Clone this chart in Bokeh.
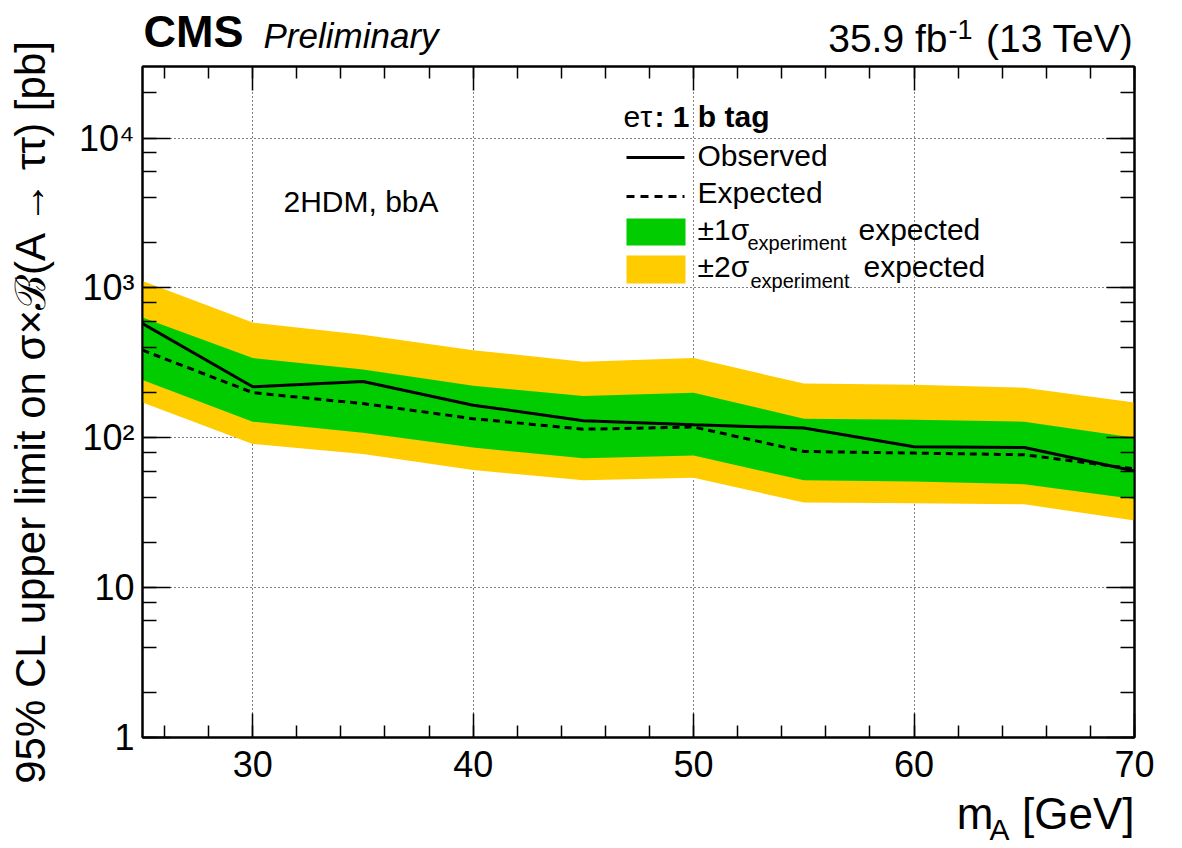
from math import pi
from bokeh.plotting import figure
from bokeh.layouts import row, column
from bokeh.models import (Range1d, LinearAxis, LogAxis, LogTicker, SingleIntervalTicker,
                          Label, BoxAnnotation, Arrow, CustomJSTickFormatter)
from bokeh.embed import file_html
from bokeh.resources import INLINE

# ---------------- data ----------------
mass = [25, 30, 35, 40, 45, 50, 55, 60, 65, 70]
observed = [578, 219, 237, 165, 130, 122, 116, 87, 86, 60]
expected = [384, 200, 169, 134, 114, 118, 81, 79, 77, 62]
exp_up1 = [634, 340, 285, 222, 190, 200, 134, 132, 128, 100]
exp_dn1 = [243, 128, 108, 86, 73, 76, 52, 51, 49, 39]
exp_up2 = [1113, 587, 486, 384, 321, 340, 230, 226, 216, 172]
exp_dn2 = [172, 91, 78, 61, 52, 54, 37, 36.5, 36, 28]

y_tick_labels = {1: "1", 10: "10", 100: "10\u00b2", 1000: "10\u00b3", 10000: "10\u2074"}

# ---------------- geometry (canvas pixels) ----------------
W, H = 1182, 848
LEFT_W = 60          # strip holding the y-axis title
HEAD_H = 64          # strip holding CMS / lumi header
FL, FR, FT, FB = 142, 1134, 66, 737   # plot frame
MAIN_H = 722
FOOT_H = H - HEAD_H - MAIN_H
FONT = "Liberation Sans"
YELLOW = "#ffcc00"
GREEN = "#00cc00"
BASE_K = 0.35        # alphabetic-baseline correction (fraction of font size)


def no_align(f):
    try:
        f.frame_align = False
    except Exception:
        pass


def text_fig(w, h):
    f = figure(width=w, height=h, x_range=Range1d(0, 1), y_range=Range1d(0, 1),
               x_axis_type=None, y_axis_type=None, output_backend="svg",
               toolbar_location=None, min_border=0, title=None)
    f.outline_line_color = None
    f.background_fill_color = "white"
    f.border_fill_color = "white"
    no_align(f)
    return f


def lab(fig, ox, ob, text, X, Y, size, style="normal", align="left", angle=0):
    """Place a text with its baseline at canvas pixel (X, Y); fig frame origin at (ox, ob)."""
    x = X - ox
    y = ob - Y
    if angle == 0:
        y += BASE_K * size
    else:
        x -= BASE_K * size
    fig.add_layout(Label(x=x, y=y, x_units="screen", y_units="screen", text=text,
                         text_font=FONT, text_font_size=f"{size}px", text_font_style=style,
                         text_align=align, text_baseline="alphabetic", text_color="black",
                         angle=angle))


# ---------------- main plot ----------------
p = figure(width=W - LEFT_W, height=MAIN_H, x_range=Range1d(25, 70), y_range=Range1d(1, 3.0e4),
           y_axis_type="log", output_backend="svg", toolbar_location=None, title=None,
           min_border_left=FL - LEFT_W, min_border_right=W - FR,
           min_border_top=FT - HEAD_H, min_border_bottom=HEAD_H + MAIN_H - FB)
no_align(p)
p.background_fill_color = "white"
p.border_fill_color = "white"
p.outline_line_color = "black"
p.outline_line_width = 2

xt = SingleIntervalTicker(interval=10, num_minor_ticks=5)
yt = LogTicker()
xb = p.below[0]
yl = p.left[0]
xb.ticker = xt
yl.ticker = yt
blank = CustomJSTickFormatter(code="return ''")
xtop = LinearAxis(ticker=SingleIntervalTicker(interval=10, num_minor_ticks=5), formatter=blank)
yright = LogAxis(ticker=LogTicker(), formatter=blank)
p.add_layout(xtop, "above")
p.add_layout(yright, "right")

for ax, maj, mnr in [(xb, 24, 12), (xtop, 24, 12), (yl, 28, 14), (yright, 28, 14)]:
    ax.axis_line_width = 2
    ax.axis_line_color = "black"
    ax.major_tick_in = maj
    ax.major_tick_out = 0
    ax.minor_tick_in = mnr
    ax.minor_tick_out = 0
    ax.major_tick_line_width = 1.5
    ax.minor_tick_line_width = 1.5
    ax.major_tick_line_color = "black"
    ax.minor_tick_line_color = "black"
    ax.major_label_text_font = FONT
    ax.major_label_text_color = "black"

for ax in (xtop, yright):
    ax.major_label_standoff = 0
    ax.major_label_text_font_size = "1px"

xb.major_label_text_font_size = "36px"
xb.major_label_standoff = 13
yl.major_label_text_font_size = "36px"
yl.major_label_standoff = 8
yl.major_label_overrides = y_tick_labels

p.xgrid.ticker = xt
p.ygrid.ticker = yt
for g in (p.xgrid, p.ygrid):
    g.grid_line_color = "black"
    g.grid_line_dash = "1 3"
    g.grid_line_width = 1

# data marks
p.varea(x=mass, y1=exp_dn2, y2=exp_up2, fill_color=YELLOW)
p.varea(x=mass, y1=exp_dn1, y2=exp_up1, fill_color=GREEN)
p.line(mass, expected, line_color="black", line_width=3, line_dash="7 5")
p.line(mass, observed, line_color="black", line_width=3)


def sx(X):
    return X - FL


def sy(Y):
    return FB - Y


# model text and legend (inside the frame)
lab(p, FL, FB, "2HDM, bbA", 283, 211, 30)
lab(p, FL, FB, "e\u03c4", 623, 126, 30)
lab(p, FL, FB, ": 1 b tag", 654, 126, 30, style="bold")
p.add_layout(Arrow(end=None, x_start=sx(626), y_start=sy(157), x_end=sx(684), y_end=sy(157),
                   start_units="screen", end_units="screen", line_color="black", line_width=3))
lab(p, FL, FB, "Observed", 697, 165, 30)
p.add_layout(Arrow(end=None, x_start=sx(626), y_start=sy(196), x_end=sx(684), y_end=sy(196),
                   start_units="screen", end_units="screen", line_color="black", line_width=3,
                   line_dash="8 6"))
lab(p, FL, FB, "Expected", 697, 202, 30)
p.add_layout(BoxAnnotation(left=sx(626), right=sx(685), top=sy(218), bottom=sy(245),
                           left_units="screen", right_units="screen", top_units="screen",
                           bottom_units="screen", fill_color=GREEN, fill_alpha=1,
                           line_color=None))
lab(p, FL, FB, "\u00b11\u03c3", 697, 239, 30)
lab(p, FL, FB, "experiment", 747, 249, 20)
lab(p, FL, FB, "expected", 858, 239, 30)
p.add_layout(BoxAnnotation(left=sx(626), right=sx(685), top=sy(255), bottom=sy(283),
                           left_units="screen", right_units="screen", top_units="screen",
                           bottom_units="screen", fill_color=YELLOW, fill_alpha=1,
                           line_color=None))
lab(p, FL, FB, "\u00b12\u03c3", 697, 276, 30)
lab(p, FL, FB, "experiment", 750, 287, 20)
lab(p, FL, FB, "expected", 863, 276, 30)

# ---------------- header strip ----------------
head = text_fig(W - LEFT_W, HEAD_H)
lab(head, LEFT_W, HEAD_H, "CMS", 143, 47, 45, style="bold")
lab(head, LEFT_W, HEAD_H, "Preliminary", 263, 47, 35, style="italic")
lab(head, LEFT_W, HEAD_H, "35.9 fb", 947, 52, 39, align="right")
lab(head, LEFT_W, HEAD_H, "-1", 948, 38, 27)
lab(head, LEFT_W, HEAD_H, "(13 TeV)", 1133, 52, 39, align="right")

# ---------------- footer strip (x-axis title) ----------------
foot = text_fig(W - LEFT_W, FOOT_H)
lab(foot, LEFT_W, H, "m", 993, 828, 44, align="right")
lab(foot, LEFT_W, H, "A", 1009, 839, 30, align="right")
lab(foot, LEFT_W, H, "[GeV]", 1134, 828, 44, align="right")

# ---------------- left strip (y-axis title) ----------------
left = text_fig(LEFT_W, H)
lab(left, 0, H, "95% CL upper limit on \u03c3\u00d7\u212c(A \u2192 \u03c4\u03c4) [pb]", 45, 410, 42,
    align="center", angle=pi / 2)

layout = row(left, column(head, p, foot, spacing=0), spacing=0)

open("out.html", "w").write(file_html(layout, INLINE))
